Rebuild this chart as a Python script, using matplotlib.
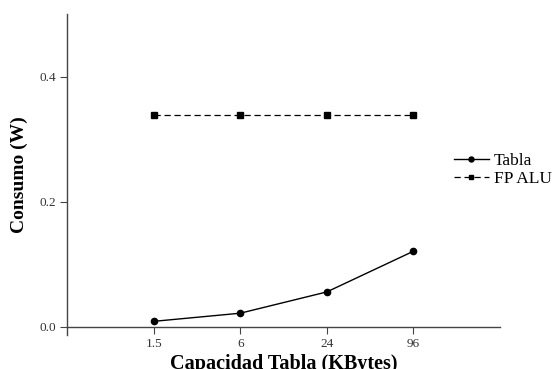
import matplotlib
matplotlib.use("Agg")
import matplotlib.pyplot as plt

# Table capacity (KBytes) and power consumption (W)
capacities = ["1.5", "6", "24", "96"]
tabla = [0.009, 0.022, 0.056, 0.121]
fp_alu = [0.339, 0.339, 0.339, 0.339]
y_ticks = [0.0, 0.2, 0.4]

plt.rcParams["font.family"] = ["Liberation Serif", "DejaVu Serif"]

fig = plt.figure(figsize=(5.52, 3.69), dpi=100)
ax = fig.add_axes([67 / 552, 1 - 335 / 369, (500 - 67) / 552, (335 - 14) / 369])

x = list(range(1, len(capacities) + 1))
ax.plot(x, tabla, color="black", lw=1.0, marker="o", ms=4.5, label="Tabla")
ax.plot(x, fp_alu, color="black", lw=0.9, ls=(0, (5, 3)), marker="s", ms=4,
        label="FP ALU")

ax.set_xlim(0, 5)
ax.set_ylim(-0.0128, 0.5)
ax.set_xticks(x)
ax.set_xticklabels(capacities)
ax.set_yticks(y_ticks)
ax.set_yticklabels([f"{v:.1f}" for v in y_ticks])

for side in ("top", "right"):
    ax.spines[side].set_visible(False)
ax.spines["bottom"].set_position(("data", 0))
for side in ("left", "bottom"):
    ax.spines[side].set_color("#444444")
    ax.spines[side].set_linewidth(1.0)
ax.tick_params(direction="out", length=5, width=0.8, color="#444444",
               labelsize=9.5, labelcolor="#333333", pad=3)

ax.set_xlabel("Capacidad Tabla (KBytes)", fontsize=14.5, fontweight="bold",
              labelpad=3)
ax.set_ylabel("Consumo (W)", fontsize=14, fontweight="bold", labelpad=8)

leg = fig.legend(loc="center left", bbox_to_anchor=(447 / 552, 1 - 170 / 369),
                 frameon=False, fontsize=12.5, handlelength=2.0,
                 handletextpad=0.3, labelspacing=0.12, borderaxespad=0,
                 markerscale=0.8)

fig.savefig("out.png", dpi=100)
